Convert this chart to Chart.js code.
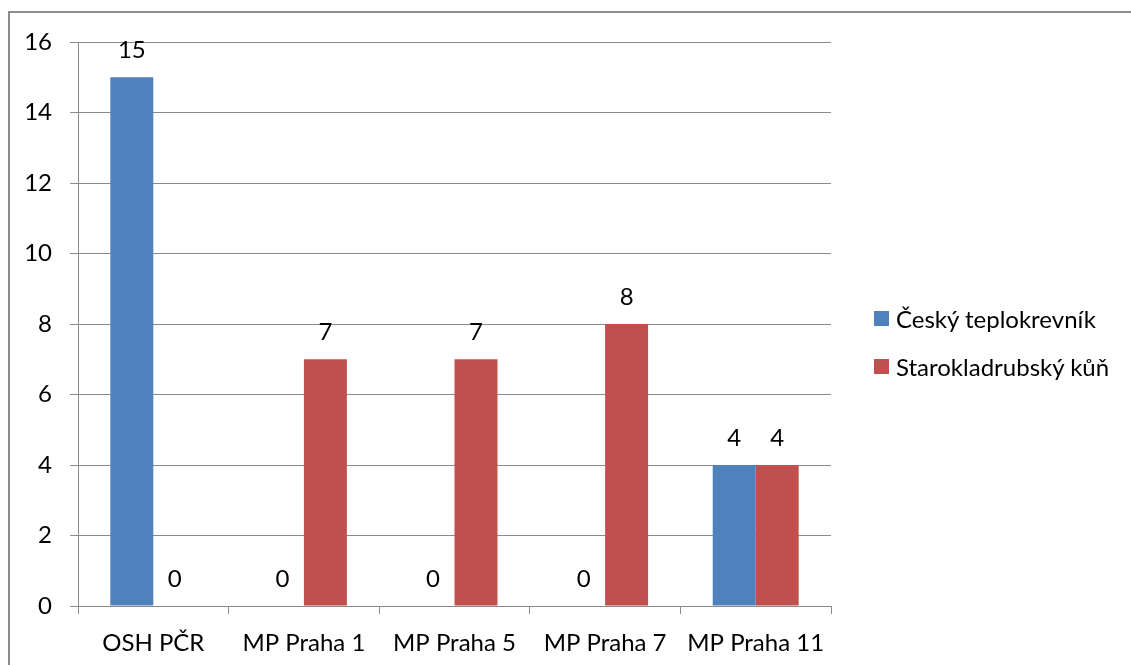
<!DOCTYPE html>
<html>
<head>
<meta charset="utf-8">
<script src="https://cdn.jsdelivr.net/npm/chart.js@4/dist/chart.umd.min.js"></script>
<style>
  html, body { margin: 0; padding: 0; background: #fff; }
  body { width: 1131px; height: 665px; position: relative; overflow: hidden; font-family: Lato, sans-serif; }
  #frame { position: absolute; left: 8px; top: 11px; width: 1200px; height: 700px; border-left: 2px solid #8c8c8c; border-top: 2px solid #8c8c8c; }
  #wrap { position: absolute; left: 0; top: 0; width: 1131px; height: 665px; }
  #legend { position: absolute; left: 874px; top: 294px; font-size: 24px; color: #000; }
  .item { display: flex; align-items: center; height: 48px; white-space: nowrap; }
  .sw { width: 15px; height: 15px; margin-right: 7px; }
</style>
</head>
<body>
<div id="frame"></div>
<div id="wrap"><canvas id="c"></canvas></div>
<div id="legend"></div>
<script>
const categories = ["OSH PČR", "MP Praha 1", "MP Praha 5", "MP Praha 7", "MP Praha 11"];
const seriesNames = ["Český teplokrevník", "Starokladrubský kůň"];
const ceskyTeplokrevnik = [15, 0, 0, 0, 4];
const starokladrubskyKun = [0, 7, 7, 8, 4];
const seriesColors = ["#4F81BD", "#C0504D"];
const yTicks = [0, 2, 4, 6, 8, 10, 12, 14, 16];

Chart.defaults.font.family = "Lato, sans-serif";
Chart.defaults.font.size = 24;
Chart.defaults.color = "#000";

const valueLabels = {
  id: "valueLabels",
  afterDatasetsDraw(chart) {
    const ctx = chart.ctx;
    ctx.save();
    ctx.font = "24px Lato, sans-serif";
    ctx.fillStyle = "#000";
    ctx.textAlign = "center";
    ctx.textBaseline = "middle";
    chart.data.datasets.forEach((ds, i) => {
      const meta = chart.getDatasetMeta(i);
      meta.data.forEach((bar, j) => {
        ctx.fillText(String(ds.data[j]), bar.x, bar.y - 27);
      });
    });
    ctx.restore();
  }
};

new Chart(document.getElementById("c"), {
  type: "bar",
  data: {
    labels: categories,
    datasets: [
      { label: seriesNames[0], data: ceskyTeplokrevnik, backgroundColor: seriesColors[0] },
      { label: seriesNames[1], data: starokladrubskyKun, backgroundColor: seriesColors[1] }
    ]
  },
  options: {
    responsive: true,
    maintainAspectRatio: false,
    devicePixelRatio: 1,
    animation: false,
    layout: { padding: { left: 0, top: 42, right: 300, bottom: 0 } },
    datasets: { bar: { categoryPercentage: 0.571, barPercentage: 1.0 } },
    plugins: { legend: { display: false }, tooltip: { enabled: false } },
    scales: {
      x: {
        grid: { display: true, drawOnChartArea: false, drawTicks: true, tickLength: 8, color: "#8a8a8a", offset: true },
        border: { display: true, color: "#8a8a8a", width: 1 },
        ticks: { padding: 15, maxRotation: 0, autoSkip: false },
        afterFit(scale) { scale.height = 59; }
      },
      y: {
        min: 0, max: 16,
        afterBuildTicks(scale) { scale.ticks = yTicks.map(v => ({ value: v })); },
        grid: { color: "#8a8a8a", tickLength: 8, drawTicks: true },
        border: { display: true, color: "#8a8a8a", width: 1 },
        ticks: { padding: 18 },
        afterFit(scale) { scale.width = 78; }
      }
    }
  },
  plugins: [valueLabels]
});

const legendEl = document.getElementById("legend");
seriesNames.forEach((name, i) => {
  const row = document.createElement("div");
  row.className = "item";
  const sw = document.createElement("span");
  sw.className = "sw";
  sw.style.background = seriesColors[i];
  const tx = document.createElement("span");
  tx.textContent = name;
  row.appendChild(sw);
  row.appendChild(tx);
  legendEl.appendChild(row);
});
</script>
</body>
</html>
